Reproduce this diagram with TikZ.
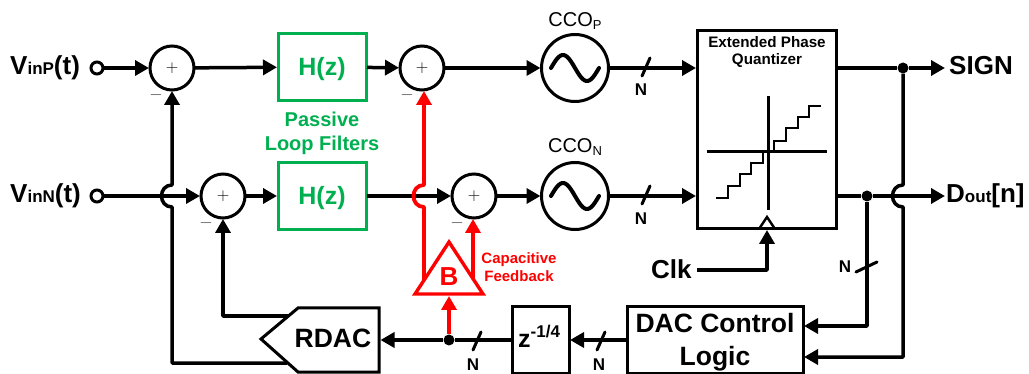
\documentclass[tikz,border=0pt]{standalone}
\usepackage{fontspec}
\setmainfont{Liberation Sans}
\usetikzlibrary{arrows.meta}
\definecolor{fbgreen}{HTML}{00B050}
\definecolor{fbred}{HTML}{FF0000}
\newcommand{\fs}[1]{\fontsize{#1}{#1}\selectfont}
\tikzset{
  x=1pt,y=-1pt,
  wire/.style={line width=3.5pt,draw=black,line join=round},
  redwire/.style={line width=3.8pt,draw=fbred,line join=round},
  tip/.style={-{Triangle[length=14pt,width=15pt]}},
  sumnode/.style={circle,draw=black,line width=3pt,minimum size=44pt,inner sep=0pt,outer sep=1pt},
  cconode/.style={circle,draw=black,line width=3pt,minimum size=67pt,inner sep=0pt,outer sep=1pt},
  filt/.style={rectangle,draw=fbgreen,line width=3pt,minimum width=88pt,minimum height=67pt,inner sep=0pt,outer sep=1pt,text=fbgreen,font=\bfseries\fs{25}},
  blockbox/.style={rectangle,draw=black,line width=3pt,inner sep=0pt,outer sep=1pt},
  term/.style={circle,draw=black,line width=3pt,minimum size=12pt,inner sep=0pt,outer sep=1pt},
  biglabel/.style={font=\bfseries\fs{26},inner sep=0pt},
  nlabel/.style={font=\bfseries\fs{17},inner sep=0pt},
  minuslabel/.style={font=\fs{17},text=black!75,inner sep=0pt},
  dot/.style={circle,fill=black,minimum size=11pt,inner sep=0pt},
  sinewave/.style={line width=4pt,draw=black,line cap=round},
  plotline/.style={line width=3pt,draw=black},
  stair/.style={line width=2.4pt,draw=black},
}
\newcommand{\plus}{\fs{18}$+$}
\newcommand{\minussign}{$-$}
\begin{document}
\begin{tikzpicture}
\useasboundingbox (0,0) rectangle (1029,374);
% labels at inputs
\node[biglabel,anchor=base west] (vinp) at (10,75) {V\fs{17}inP\fs{26}(t)};
\node[biglabel,anchor=base west] (vinn) at (10,203) {V\fs{17}inN\fs{26}(t)};
\node[term] (tp) at (97,68) {};
\node[term] (tn) at (97,196) {};
% summers
\node[sumnode] (s1) at (172,68) {\plus};
\node[sumnode] (s2) at (422,68) {\plus};
\node[sumnode] (s3) at (223,196) {\plus};
\node[sumnode] (s4) at (474,196) {\plus};
\node[minuslabel] (m1) at (156,95) {\minussign};
\node[minuslabel] (m2) at (407,95) {\minussign};
\node[minuslabel] (m3) at (206,223) {\minussign};
\node[minuslabel] (m4) at (457,223) {\minussign};
% filters
\node[filt] (h1) at (322,67) {\raisebox{-9pt}[0pt][0pt]{H(z)}};
\node[filt] (h2) at (322,196) {\raisebox{-9pt}[0pt][0pt]{H(z)}};
\node[font=\bfseries\fs{20},text=fbgreen,align=center,inner sep=0pt] (pl) at (322,133) {Passive\\[4pt]Loop Filters};
% CCOs
\node[cconode] (c1) at (575,68) {};
\node[cconode] (c2) at (575,196) {};
\node[font=\fs{20},inner sep=0pt] (c1l) at (575,21) {CCO\fs{13}\raisebox{-3pt}{P}};
\node[font=\fs{20},inner sep=0pt] (c2l) at (575,147) {CCO\fs{13}\raisebox{-3pt}{N}};
\draw[sinewave,shift={(c1.center)}] plot[domain=-180:180,samples=41] ({\x/180*24},{sin(\x)*13});
\draw[sinewave,shift={(c2.center)}] plot[domain=-180:180,samples=41] ({\x/180*24},{sin(\x)*13});
% quantizer
\node[blockbox,minimum width=139pt,minimum height=198pt] (q) at (766.5,130) {};
\node[font=\bfseries\fs{15.2},align=center,inner sep=0pt] (ql) at (767,52) {Extended Phase\\[2pt]Quantizer};
\draw[plotline] (768,96) -- (768,210);
\draw[plotline] (707,152) -- (827,152);
\draw[stair] (716,198) -| (728,186) -| (740,174) -| (751,163) -| (763,152);
\draw[stair] (774,152) |- (786,141) |- (798,128) |- (809,117) |- (821,106);
\draw[line width=2.4pt,draw=black] (759,229) -- (767,217) -- (775,229);
% outputs
\node[biglabel,anchor=base west] (sign) at (949,75) {SIGN};
\node[biglabel,anchor=base west] (dout) at (946,203) {D\fs{17}out\fs{26}[n]};
\coordinate (signend) at (945,68);
\coordinate (doutend) at (945,196);
\node[dot] (dtop) at (903,68) {};
\node[dot] (dbot) at (867,196) {};
% Clk
\node[biglabel,anchor=base west] (clk) at (651,279) {Clk};
\coordinate (clkc) at (767,270);
% DAC control, delay, RDAC
\node[blockbox,minimum width=176pt,minimum height=66pt] (dac) at (715,340) {};
\node[font=\bfseries\fs{26.5},align=center,inner sep=0pt] (dacl) at (715,342) {DAC Control\\[7pt]Logic};
\node[blockbox,minimum width=57pt,minimum height=67pt] (zb) at (540.5,340) {};
\node[font=\bfseries\fs{25},inner sep=0pt,anchor=base west] (zl) at (518,348) {z\raisebox{10pt}{\fs{17}-1/4}};
\draw[line width=3pt,line join=miter] (261,339) -- (298,308) -- (379,308) -- (379,372) -- (298,372) -- cycle;
\node[biglabel,font=\bfseries\fs{26.5}] (rdac) at (333,338) {RDAC};
\coordinate (rdacin) at (380.5,340);
\coordinate (rdacu) at (288,316);
\coordinate (rdacl) at (287,363);
% B triangle
\draw[line width=3.4pt,draw=fbred,line join=miter] (449,242) -- (483,294) -- (415,294) -- cycle;
\node[font=\bfseries\fs{26},text=fbred,inner sep=0pt] (b) at (449,277) {B};
\coordinate (bbot) at (449,296);
\coordinate (bleft) at (424,280);
\coordinate (bright) at (473,279);
\node[font=\bfseries\fs{15},text=fbred,align=center,inner sep=0pt] (cf) at (519,267) {Capacitive\\[3pt]Feedback};
\node[dot] (dfb) at (449,340) {};
% top row wires
\draw[wire,tip] (tp) -- (s1);
\draw[wire,tip] (s1) -- (h1);
\draw[wire,tip] (h1) -- (s2);
\draw[wire,tip] (s2) -- (c1);
\draw[wire,tip] (c1) -- (q.west |- c1);
\draw[wire] (q.east |- c1) -- (dtop);
\draw[wire,tip] (dtop) -- (signend);
% lower row wires
\draw[wire,tip] (tn) -- (s3);
\draw[wire,tip] (s3) -- (h2);
\draw[wire,tip] (h2) -- (s4);
\draw[wire,tip] (s4) -- (c2);
\draw[wire,tip] (c2) -- (q.west |- c2);
\draw[wire] (q.east |- c2) -- (dbot);
\draw[wire,tip] (dbot) -- (doutend);
% bus slashes
\foreach \xx/\yy in {646/67,646/195,477/341,601/341}
  \draw[line width=3pt,line cap=round] (\xx-4,\yy+9) -- (\xx+4,\yy-9);
\draw[line width=3pt,line cap=round] (856,272) -- (877,262);
\node[nlabel] (n1) at (641,90) {N};
\node[nlabel] (n2) at (641,219) {N};
\node[nlabel] (n3) at (473,365) {N};
\node[nlabel] (n4) at (599,365) {N};
\node[nlabel] (n5) at (845,267) {N};
% feedback wires with hops
\draw[wire,tip] (rdacl) -- (172,363) -- (172,207) .. controls (158,207) and (158,185) .. (172,185) -- (s1.south);
\draw[wire,tip] (rdacu) -- (223,316) -- (s3.south);
\draw[redwire,tip] (bleft) -- (424,207) .. controls (410,207) and (410,185) .. (424,185) -- (424,91);
\draw[redwire,tip] (bright) -- (s4.south -| bright);
\draw[redwire,tip] (dfb) -- (bbot);
\draw[wire,tip] (dfb) -- (rdacin);
\draw[wire] (zb) ++(-28.5,0) -- (dfb);
\draw[wire,tip] (dac.west) -- (zb.east);
% quantizer outputs to DAC control
\draw[wire,tip] (dbot) -- (867,326) -- (dac.east |- 867,326);
\draw[wire,tip] (dtop) -- (903,185) .. controls (889,185) and (889,207) .. (903,207) -- (903,357) -- (dac.east |- 903,357);
% clock
\draw[wire,tip] (697,270) -- (clkc) -- (q.south -| clkc);
\end{tikzpicture}
\end{document}
